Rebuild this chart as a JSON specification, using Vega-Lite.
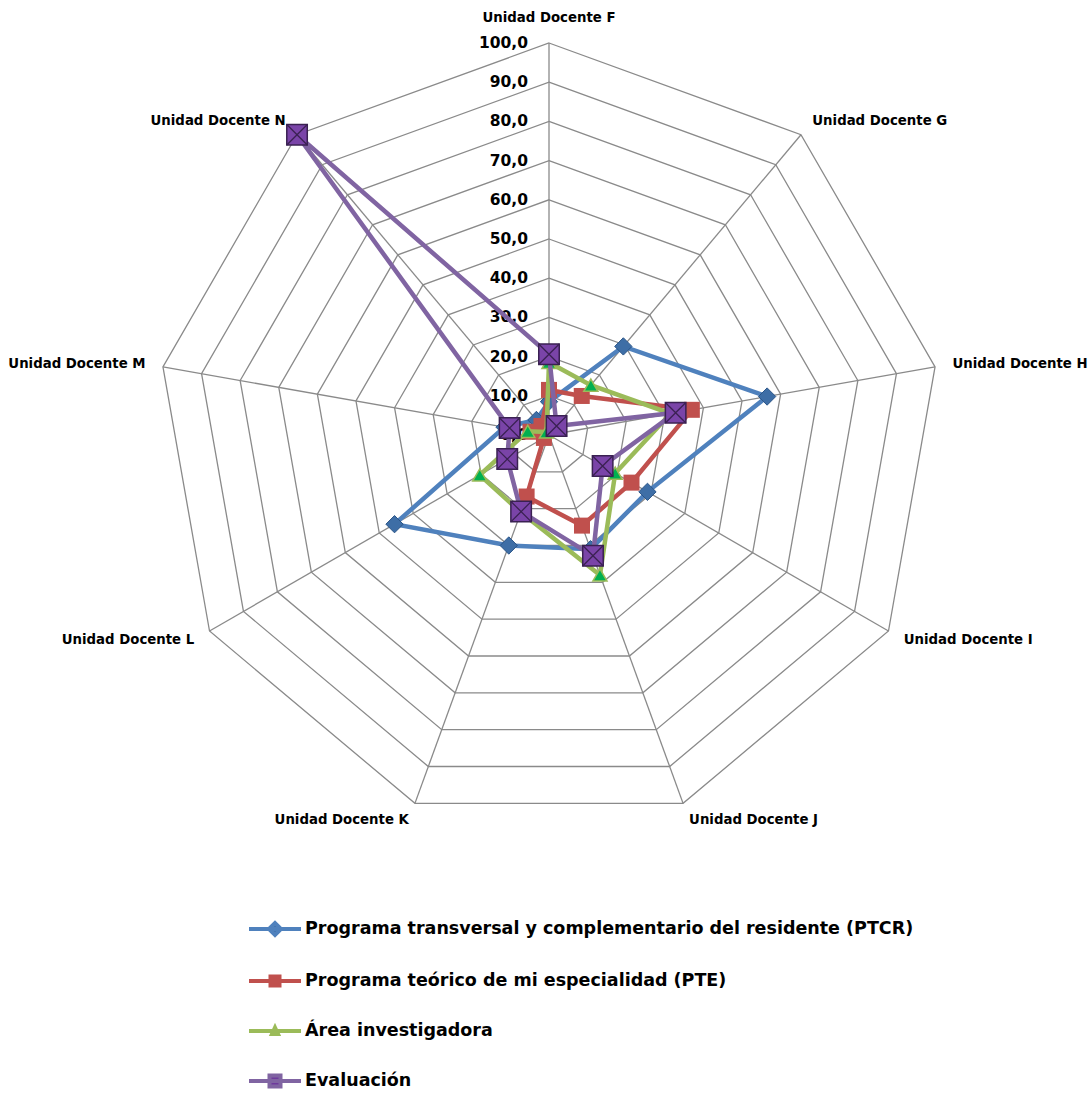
{
  "$schema": "https://vega.github.io/schema/vega-lite/v6.json",
  "width": 784,
  "height": 784,
  "autosize": "none",
  "padding": {"left": 157, "top": 43, "right": 149, "bottom": 268},
  "background": "white",
  "config": {
    "view": {"stroke": null},
    "font": "DejaVu Sans",
    "legend": {
      "orient": "none",
      "legendX": 106,
      "legendY": 874,
      "title": null,
      "rowPadding": 25,
      "labelFont": "DejaVu Sans",
      "labelFontSize": 17.5,
      "labelFontWeight": "bold",
      "labelColor": "#000000",
      "labelLimit": 900,
      "symbolSize": 400,
      "symbolStrokeWidth": 4,
      "labelOffset": 18,
      "symbolOpacity": 1
    }
  },
  "datasets": {
    "axes": [
      {"axis": "F", "name": "Unidad Docente F", "idx": 0},
      {"axis": "G", "name": "Unidad Docente G", "idx": 1},
      {"axis": "H", "name": "Unidad Docente H", "idx": 2},
      {"axis": "I", "name": "Unidad Docente I", "idx": 3},
      {"axis": "J", "name": "Unidad Docente J", "idx": 4},
      {"axis": "K", "name": "Unidad Docente K", "idx": 5},
      {"axis": "L", "name": "Unidad Docente L", "idx": 6},
      {"axis": "M", "name": "Unidad Docente M", "idx": 7},
      {"axis": "N", "name": "Unidad Docente N", "idx": 8}
    ],
    "levels": [
      {"level": 10, "idx": [0, 1, 2, 3, 4, 5, 6, 7, 8]},
      {"level": 20, "idx": [0, 1, 2, 3, 4, 5, 6, 7, 8]},
      {"level": 30, "idx": [0, 1, 2, 3, 4, 5, 6, 7, 8]},
      {"level": 40, "idx": [0, 1, 2, 3, 4, 5, 6, 7, 8]},
      {"level": 50, "idx": [0, 1, 2, 3, 4, 5, 6, 7, 8]},
      {"level": 60, "idx": [0, 1, 2, 3, 4, 5, 6, 7, 8]},
      {"level": 70, "idx": [0, 1, 2, 3, 4, 5, 6, 7, 8]},
      {"level": 80, "idx": [0, 1, 2, 3, 4, 5, 6, 7, 8]},
      {"level": 90, "idx": [0, 1, 2, 3, 4, 5, 6, 7, 8]},
      {"level": 100, "idx": [0, 1, 2, 3, 4, 5, 6, 7, 8]}
    ],
    "ticks": [
      {"level": 0, "label": "0,0"},
      {"level": 10, "label": "10,0"},
      {"level": 20, "label": "20,0"},
      {"level": 30, "label": "30,0"},
      {"level": 40, "label": "40,0"},
      {"level": 50, "label": "50,0"},
      {"level": 60, "label": "60,0"},
      {"level": 70, "label": "70,0"},
      {"level": 80, "label": "80,0"},
      {"level": 90, "label": "90,0"},
      {"level": 100, "label": "100,0"}
    ],
    "scores": [
      {"series": "Programa transversal y complementario del residente (PTCR)", "axis": "F", "value": 8.5},
      {"series": "Programa transversal y complementario del residente (PTCR)", "axis": "G", "value": 29.5},
      {"series": "Programa transversal y complementario del residente (PTCR)", "axis": "H", "value": 56.5},
      {"series": "Programa transversal y complementario del residente (PTCR)", "axis": "I", "value": 29},
      {"series": "Programa transversal y complementario del residente (PTCR)", "axis": "J", "value": 31},
      {"series": "Programa transversal y complementario del residente (PTCR)", "axis": "K", "value": 30},
      {"series": "Programa transversal y complementario del residente (PTCR)", "axis": "L", "value": 45.5},
      {"series": "Programa transversal y complementario del residente (PTCR)", "axis": "M", "value": 11.5},
      {"series": "Programa transversal y complementario del residente (PTCR)", "axis": "N", "value": 5},
      {"series": "Programa teórico de mi especialidad (PTE)", "axis": "F", "value": 11.5},
      {"series": "Programa teórico de mi especialidad (PTE)", "axis": "G", "value": 13},
      {"series": "Programa teórico de mi especialidad (PTE)", "axis": "H", "value": 37},
      {"series": "Programa teórico de mi especialidad (PTE)", "axis": "I", "value": 24.3},
      {"series": "Programa teórico de mi especialidad (PTE)", "axis": "J", "value": 24.6},
      {"series": "Programa teórico de mi especialidad (PTE)", "axis": "K", "value": 16.7},
      {"series": "Programa teórico de mi especialidad (PTE)", "axis": "L", "value": 1.5},
      {"series": "Programa teórico de mi especialidad (PTE)", "axis": "M", "value": 4.8},
      {"series": "Programa teórico de mi especialidad (PTE)", "axis": "N", "value": 3},
      {"series": "Área investigadora", "axis": "F", "value": 18.5},
      {"series": "Área investigadora", "axis": "G", "value": 16.6},
      {"series": "Área investigadora", "axis": "H", "value": 31.5},
      {"series": "Área investigadora", "axis": "I", "value": 19.5},
      {"series": "Área investigadora", "axis": "J", "value": 38},
      {"series": "Área investigadora", "axis": "K", "value": 21},
      {"series": "Área investigadora", "axis": "L", "value": 20.4},
      {"series": "Área investigadora", "axis": "M", "value": 5.5},
      {"series": "Área investigadora", "axis": "N", "value": 1},
      {"series": "Evaluación", "axis": "F", "value": 20.6},
      {"series": "Evaluación", "axis": "G", "value": 3},
      {"series": "Evaluación", "axis": "H", "value": 32.8},
      {"series": "Evaluación", "axis": "I", "value": 15.8},
      {"series": "Evaluación", "axis": "J", "value": 32.8},
      {"series": "Evaluación", "axis": "K", "value": 20.8},
      {"series": "Evaluación", "axis": "L", "value": 12.3},
      {"series": "Evaluación", "axis": "M", "value": 10.2},
      {"series": "Evaluación", "axis": "N", "value": 100}
    ]
  },
  "layer": [
    {
      "data": {"name": "levels"},
      "transform": [
        {"flatten": ["idx"]},
        {"calculate": "PI/2 - datum.idx*2*PI/9", "as": "ang"},
        {"calculate": "datum.level*cos(datum.ang)", "as": "px"},
        {"calculate": "datum.level*sin(datum.ang)", "as": "py"}
      ],
      "mark": {"type": "line", "interpolate": "linear-closed", "stroke": "#8a8a8a", "strokeWidth": 1.3},
      "encoding": {
        "x": {"field": "px", "type": "quantitative", "scale": {"domain": [-100, 100]}, "axis": null},
        "y": {"field": "py", "type": "quantitative", "scale": {"domain": [-100, 100]}, "axis": null},
        "detail": {"field": "level", "type": "nominal"},
        "order": {"field": "idx", "type": "quantitative"}
      }
    },
    {
      "data": {"name": "axes"},
      "transform": [
        {"calculate": "PI/2 - datum.idx*2*PI/9", "as": "ang"},
        {"calculate": "100*cos(datum.ang)", "as": "px"},
        {"calculate": "100*sin(datum.ang)", "as": "py"}
      ],
      "mark": {"type": "rule", "stroke": "#8a8a8a", "strokeWidth": 1.3},
      "encoding": {
        "x": {"field": "px", "type": "quantitative"},
        "y": {"field": "py", "type": "quantitative"},
        "x2": {"datum": 0},
        "y2": {"datum": 0}
      }
    },
    {
      "data": {"name": "ticks"},
      "mark": {"type": "text", "align": "right", "baseline": "middle", "dx": -21, "fontSize": 15.5, "fontWeight": "bold", "color": "#000000", "font": "DejaVu Sans"},
      "encoding": {
        "x": {"datum": 0, "type": "quantitative"},
        "y": {"field": "level", "type": "quantitative"},
        "text": {"field": "label"}
      }
    },
    {
      "data": {"name": "axes"},
      "transform": [
        {"calculate": "PI/2 - datum.idx*2*PI/9", "as": "ang"},
        {"calculate": "104.5*cos(datum.ang)", "as": "px"},
        {"calculate": "104.5*sin(datum.ang)", "as": "py"}
      ],
      "layer": [
        {
          "transform": [{"filter": "datum.idx == 0"}],
          "mark": {"type": "text", "align": "center", "baseline": "bottom", "fontSize": 13.3, "fontWeight": "bold", "color": "#000000"},
          "encoding": {
            "x": {"field": "px", "type": "quantitative"},
            "y": {"field": "py", "type": "quantitative"},
            "text": {"field": "name"}
          }
        },
        {
          "transform": [{"filter": "datum.idx >= 1 && datum.idx <= 4"}],
          "mark": {"type": "text", "align": "left", "baseline": "middle", "fontSize": 13.3, "fontWeight": "bold", "color": "#000000"},
          "encoding": {
            "x": {"field": "px", "type": "quantitative"},
            "y": {"field": "py", "type": "quantitative"},
            "text": {"field": "name"}
          }
        },
        {
          "transform": [{"filter": "datum.idx >= 5"}],
          "mark": {"type": "text", "align": "right", "baseline": "middle", "fontSize": 13.3, "fontWeight": "bold", "color": "#000000"},
          "encoding": {
            "x": {"field": "px", "type": "quantitative"},
            "y": {"field": "py", "type": "quantitative"},
            "text": {"field": "name"}
          }
        }
      ]
    },
    {
      "data": {"name": "scores"},
      "transform": [
        {"lookup": "axis", "from": {"data": {"name": "axes"}, "key": "axis", "fields": ["idx"]}},
        {"calculate": "PI/2 - datum.idx*2*PI/9", "as": "ang"},
        {"calculate": "datum.value*cos(datum.ang)", "as": "px"},
        {"calculate": "datum.value*sin(datum.ang)", "as": "py"}
      ],
      "encoding": {
        "x": {"field": "px", "type": "quantitative"},
        "y": {"field": "py", "type": "quantitative"},
        "order": {"field": "idx", "type": "quantitative"}
      },
      "layer": [
        {
          "transform": [{"filter": "datum.series == 'Programa transversal y complementario del residente (PTCR)'"}],
          "mark": {"type": "line", "interpolate": "linear-closed", "stroke": "#4F81BD", "strokeWidth": 4.5}
        },
        {
          "transform": [{"filter": "datum.series == 'Programa transversal y complementario del residente (PTCR)'"}],
          "mark": {"type": "point", "shape": "diamond", "filled": true, "size": 300, "fill": "#3E6EA6", "stroke": "#2B5588", "strokeWidth": 1, "opacity": 1}
        },
        {
          "transform": [{"filter": "datum.series == 'Programa teórico de mi especialidad (PTE)'"}],
          "mark": {"type": "line", "interpolate": "linear-closed", "stroke": "#C0504D", "strokeWidth": 4.5}
        },
        {
          "transform": [{"filter": "datum.series == 'Programa teórico de mi especialidad (PTE)'"}],
          "mark": {"type": "point", "shape": "square", "filled": true, "size": 256, "fill": "#C0504D", "strokeWidth": 0, "opacity": 1}
        },
        {
          "transform": [{"filter": "datum.series == 'Área investigadora'"}],
          "mark": {"type": "line", "interpolate": "linear-closed", "stroke": "#9BBB59", "strokeWidth": 4.5}
        },
        {
          "transform": [{"filter": "datum.series == 'Área investigadora'"}],
          "mark": {"type": "point", "shape": "triangle-up", "filled": true, "size": 200, "fill": "#00B050", "stroke": "#9BBB59", "strokeWidth": 1.5, "opacity": 1}
        },
        {
          "transform": [{"filter": "datum.series == 'Evaluación'"}],
          "mark": {"type": "line", "interpolate": "linear-closed", "stroke": "#8064A2", "strokeWidth": 4.5}
        },
        {
          "transform": [{"filter": "datum.series == 'Evaluación'"}],
          "mark": {"type": "point", "shape": "square", "filled": true, "size": 420, "fill": "#7A44A8", "stroke": "#3A2152", "strokeWidth": 1.5, "opacity": 1}
        },
        {
          "transform": [{"filter": "datum.series == 'Evaluación'"}],
          "mark": {"type": "point", "shape": "M-1,-1L1,1M1,-1L-1,1", "filled": false, "size": 420, "stroke": "#3A2152", "strokeWidth": 1.3, "opacity": 1}
        },
        {
          "transform": [{"filter": "datum.value < 0"}],
          "mark": {"type": "point", "filled": true, "strokeWidth": 4, "strokeCap": "round"},
          "encoding": {
            "shape": {
              "field": "series", "type": "nominal",
              "scale": {
                "domain": ["Programa transversal y complementario del residente (PTCR)", "Programa teórico de mi especialidad (PTE)", "Área investigadora", "Evaluación"],
                "range": ["M-2.6,0L2.6,0M-0.6,0L0,-0.6L0.6,0L0,0.6Z", "M-2.6,0L2.6,0M-0.45,-0.45L0.45,-0.45L0.45,0.45L-0.45,0.45Z", "M-2.6,0L2.6,0M0,-0.35L0.3,0.3L-0.3,0.3Z", "M-2.6,0L2.6,0M-0.55,-0.55L0.55,-0.55L0.55,0.55L-0.55,0.55Z"]
              },
              "legend": {"title": null}
            },
            "fill": {
              "field": "series", "type": "nominal",
              "scale": {
                "domain": ["Programa transversal y complementario del residente (PTCR)", "Programa teórico de mi especialidad (PTE)", "Área investigadora", "Evaluación"],
                "range": ["#3E6EA6", "#C0504D", "#00B050", "#6E3A9C"]
              },
              "legend": {"title": null}
            },
            "stroke": {
              "field": "series", "type": "nominal",
              "scale": {
                "domain": ["Programa transversal y complementario del residente (PTCR)", "Programa teórico de mi especialidad (PTE)", "Área investigadora", "Evaluación"],
                "range": ["#4F81BD", "#C0504D", "#9BBB59", "#8064A2"]
              },
              "legend": {"title": null}
            }
          }
        }
      ]
    }
  ]
}
